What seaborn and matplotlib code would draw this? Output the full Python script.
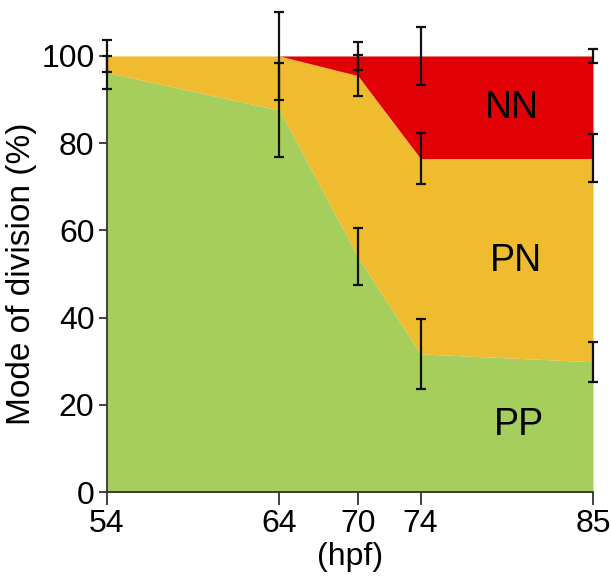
import numpy as np
import matplotlib
matplotlib.use("Agg")
import matplotlib.pyplot as plt
import seaborn as sns

# data (percent of divisions)
hpf_labels = ["54", "64", "70", "74", "85"]
hpf_pos = [54, 65, 70, 74, 85]          # 64 hpf sits a bit right of its linear spot in the source
pp = [96.2, 87.6, 54.0, 31.7, 29.9]
pn = [3.8, 12.4, 41.5, 44.8, 46.6]
nn = [0.0, 0.0, 4.5, 23.5, 23.5]

# error bars (SEM) for each stacked boundary
err_top = [3.7, 10.0, 3.2, 6.6, 1.5]      # at 100 %
err_mid = [0.0, 0.0, 4.7, 5.8, 5.5]       # at PP + PN
err_pp = [3.7, 10.8, 6.6, 8.0, 4.6]       # at PP

colors = ["#a6ce5c", "#efbb2f", "#e00006"]

sns.set_style("ticks")
plt.rcParams["font.family"] = ["Liberation Sans", "DejaVu Sans"]
plt.rcParams["text.color"] = "black"
plt.rcParams["axes.labelcolor"] = "black"
plt.rcParams["xtick.labelcolor"] = "black"
plt.rcParams["ytick.labelcolor"] = "black"

fig = plt.figure(figsize=(6.11, 5.77), dpi=100)
ax = fig.add_axes([0.175, 0.147, 0.7955, 0.756])

ax.stackplot(hpf_pos, pp, pn, nn, colors=colors, linewidth=0)

x = np.array(hpf_pos)
top = np.array(pp) + np.array(pn) + np.array(nn)
mid = np.array(pp) + np.array(pn)
ekw = dict(fmt="none", ecolor="#111111", elinewidth=1.6, capsize=3.8,
           capthick=1.6, clip_on=False, zorder=5)
ax.errorbar(x, top, yerr=err_top, **ekw)
m = np.array(err_mid) > 0
ax.errorbar(x[m], mid[m], yerr=np.array(err_mid)[m], **ekw)
ax.errorbar(x, pp, yerr=err_pp, **ekw)

ax.text(79.8, 88, "NN", fontsize=27, ha="center", va="center")
ax.text(80.1, 53, "PN", fontsize=27, ha="center", va="center")
ax.text(80.3, 15.5, "PP", fontsize=27, ha="center", va="center")

ax.set_xlim(54, 85)
ax.set_ylim(0, 100)
ax.set_xticks(hpf_pos)
ax.set_xticklabels(hpf_labels)
ax.set_yticks([0, 20, 40, 60, 80, 100])
ax.tick_params(axis="both", labelsize=23, color="#333333", width=1.3)
ax.tick_params(axis="x", length=9, pad=3)
ax.tick_params(axis="y", length=6, pad=3)
ax.set_ylabel("Mode of division (%)", fontsize=24, labelpad=3)
ax.set_xlabel("(hpf)", fontsize=23, labelpad=2)

sns.despine(ax=ax)
for s in ["left", "bottom"]:
    ax.spines[s].set_color("#333333")
    ax.spines[s].set_linewidth(1.3)

fig.savefig("out.png", dpi=100)
